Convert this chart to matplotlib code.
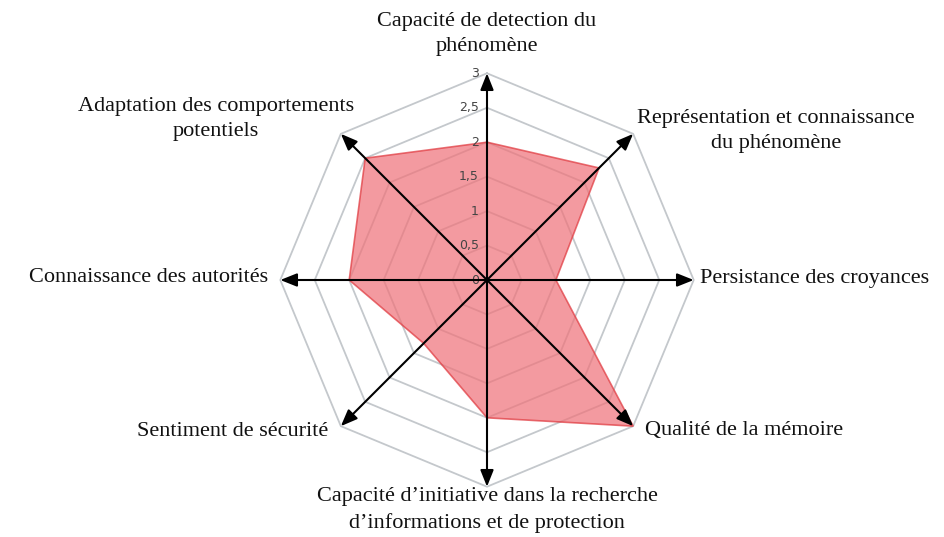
import numpy as np
import matplotlib.pyplot as plt
from matplotlib.patches import Polygon

# axes in clockwise order, starting from the top
categories = [
    'Capacité de detection du\nphénomène',
    'Représentation et connaissance\ndu phénomène',
    'Persistance des croyances',
    'Qualité de la mémoire',
    'Capacité d\u2019initiative dans la recherche\nd\u2019informations et de protection',
    'Sentiment de sécurité',
    'Connaissance des autorités',
    'Adaptation des comportements\npotentiels',
]
values = [2.0, 2.3, 1.0, 3.0, 2.0, 1.3, 2.0, 2.5]
rings = [0.5, 1.0, 1.5, 2.0, 2.5, 3.0]
ring_labels = ['0,5', '1', '1,5', '2', '2,5', '3']

W, H = 945, 537
cx, cy = 487, 280          # centre in pixels (from top-left)
px_per_unit = 206.7 / 3

fig = plt.figure(figsize=(W / 100, H / 100), dpi=100)
ax = fig.add_axes([0, 0, 1, 1])
ax.set_xlim(-cx / px_per_unit, (W - cx) / px_per_unit)
ax.set_ylim(-(H - cy) / px_per_unit, cy / px_per_unit)
ax.set_aspect('equal')
ax.axis('off')

n = len(categories)
angles = np.deg2rad(90 - np.arange(n) * 360 / n)
ca, sa = np.cos(angles), np.sin(angles)

# octagonal grid rings
for r in rings:
    xs = np.append(r * ca, r * ca[0])
    ys = np.append(r * sa, r * sa[0])
    ax.plot(xs, ys, color='#c4c8cc', lw=1.3, zorder=1)

# data polygon
pts = np.column_stack([np.array(values) * ca, np.array(values) * sa])
ax.add_patch(Polygon(pts, closed=True, facecolor='#ef747b', alpha=0.72,
                     edgecolor='#e0393f', lw=1.2, zorder=2))

# double-headed arrows along the four axes
for i in range(n // 2):
    ax.annotate('', xy=(3 * ca[i], 3 * sa[i]), xytext=(3 * ca[i + 4], 3 * sa[i + 4]),
                arrowprops=dict(arrowstyle='<|-|>,head_length=1.0,head_width=0.4',
                                color='black', lw=1.5, shrinkA=0, shrinkB=0),
                zorder=4)

# radial tick labels
ax.text(-0.12, 0, '0', ha='right', va='center', fontsize=9,
        color='#444444', family='DejaVu Sans', zorder=3)
for r, lab in zip(rings, ring_labels):
    ax.text(-0.12, r, lab, ha='right', va='center', fontsize=9,
            color='#444444', family='DejaVu Sans', zorder=3)

# category labels (pixel positions)
label_pos = [
    (487, 34, 'center'),
    (776, 131, 'center'),
    (700, 279, 'left'),
    (645, 431, 'left'),
    (487, 510, 'center'),
    (328, 431, 'right'),
    (268, 278, 'right'),
    (216, 119, 'center'),
]
for text, (x, y, ha) in zip(categories, label_pos):
    fig.text(x / W, 1 - y / H, text, ha=ha, va='center', fontsize=16,
             family='Liberation Serif', color='#111111', linespacing=1.45,
             multialignment='center')

fig.savefig('out.png', dpi=100)
